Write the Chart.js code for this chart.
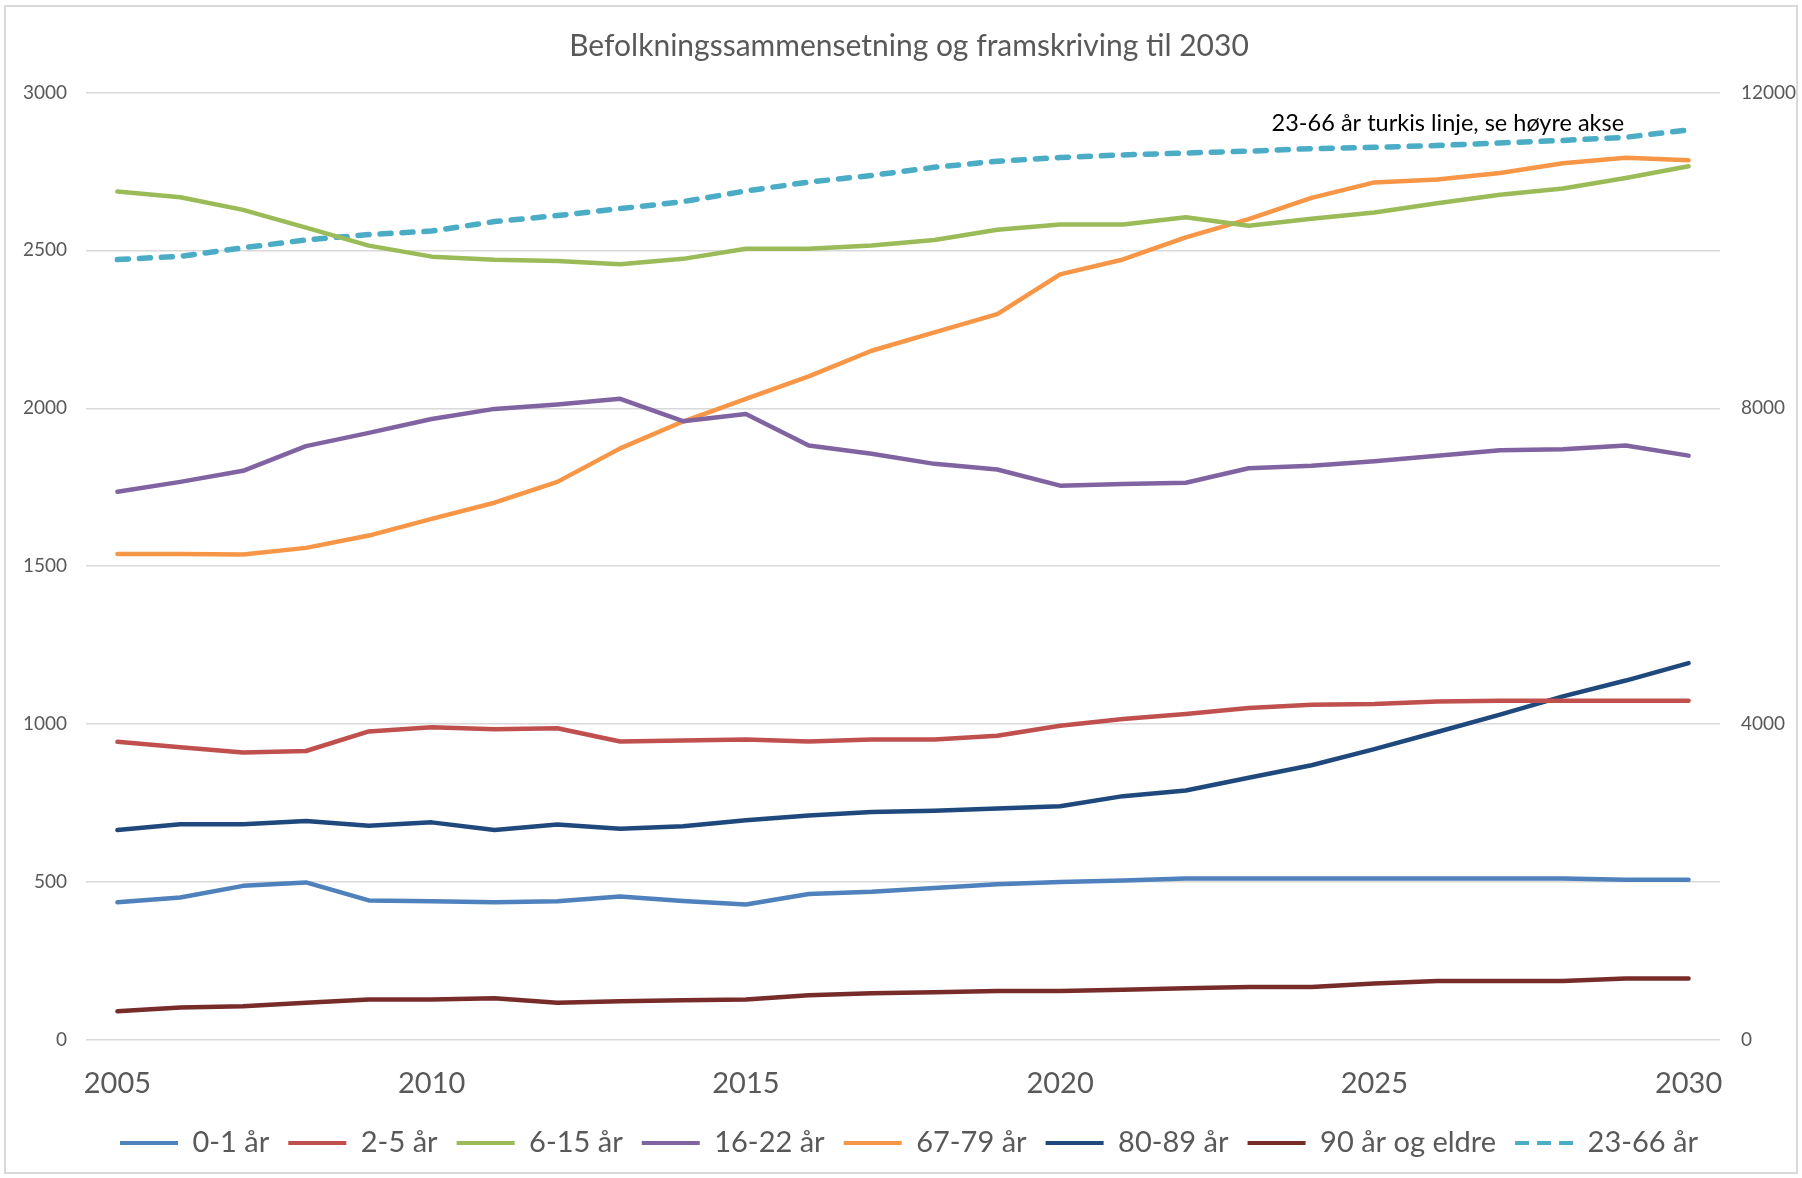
<!DOCTYPE html>
<html>
<head>
<meta charset="utf-8">
<script src="https://cdn.jsdelivr.net/npm/chart.js@4"></script>
<style>
  html, body { margin: 0; padding: 0; background: #fff; overflow: hidden; }
  canvas { display: block; }
</style>
</head>
<body>
<canvas id="befolkning" width="1802" height="1178"></canvas>
<script>
const years = [2005, 2006, 2007, 2008, 2009, 2010, 2011, 2012, 2013, 2014, 2015, 2016, 2017,
  2018, 2019, 2020, 2021, 2022, 2023, 2024, 2025, 2026, 2027, 2028, 2029, 2030];

// left axis (persons)
const age0_1 = [436, 451, 488, 499, 442, 439, 436, 439, 454, 440, 429, 462, 469,
  481, 493, 500, 505, 511, 511, 511, 511, 511, 511, 511, 507, 507];
const age2_5 = [944, 927, 910, 915, 977, 990, 984, 987, 945, 948, 951, 945, 951,
  951, 963, 995, 1016, 1032, 1051, 1061, 1064, 1072, 1074, 1074, 1074, 1074];
const age6_15 = [2686, 2668, 2628, 2572, 2515, 2480, 2470, 2466, 2456, 2473, 2505, 2505, 2515,
  2533, 2565, 2582, 2582, 2605, 2578, 2600, 2620, 2649, 2676, 2696, 2729, 2766];
const age16_22 = [1736, 1767, 1802, 1880, 1922, 1966, 1998, 2012, 2030, 1959, 1982, 1882, 1856,
  1824, 1806, 1755, 1760, 1764, 1810, 1818, 1832, 1850, 1867, 1870, 1882, 1850];
const age67_79 = [1539, 1539, 1537, 1558, 1597, 1650, 1701, 1767, 1873, 1958, 2030, 2101, 2182,
  2240, 2298, 2424, 2471, 2541, 2599, 2666, 2715, 2724, 2745, 2776, 2793, 2785];
const age80_89 = [665, 683, 683, 693, 678, 689, 665, 682, 669, 677, 696, 711, 722,
  726, 733, 740, 772, 790, 830, 870, 921, 975, 1030, 1088, 1138, 1193];
const age90plus = [91, 103, 107, 118, 128, 128, 132, 118, 123, 126, 128, 142, 148,
  151, 155, 155, 159, 164, 168, 168, 179, 187, 187, 187, 195, 195];
// right axis
const age23_66 = [9884, 9924, 10032, 10132, 10200, 10244, 10364, 10440, 10528, 10616, 10752, 10864, 10948,
  11052, 11128, 11176, 11208, 11232, 11256, 11288, 11304, 11328, 11360, 11392, 11432, 11524];

const leftTicks = { min: 0, max: 3000, step: 500 };
const rightTicks = { min: 0, max: 12000, step: 4000 };

const note = '23-66 år turkis linje, se høyre akse';
const grey = '#595959';

Chart.defaults.font.family = 'Lato, "Noto Sans", sans-serif';
Chart.defaults.color = grey;

function line(label, data, color, axis, dash) {
    return {
        label: label,
        data: data,
        borderColor: color,
        backgroundColor: color,
        borderWidth: dash ? 5.5 : 4.5,
        borderDash: dash || [],
        borderCapStyle: 'round',
        borderJoinStyle: 'round',
        pointRadius: 0,
        pointHoverRadius: 0,
        tension: 0,
        fill: false,
        yAxisID: axis,
    };
}

const frame = {
    id: 'frame',
    beforeDraw(chart) {
        const ctx = chart.ctx;
        ctx.save();
        ctx.fillStyle = '#fff';
        ctx.fillRect(0, 0, chart.width, chart.height);
        ctx.strokeStyle = '#d9d9d9';
        ctx.lineWidth = 2;
        ctx.strokeRect(5, 6, chart.width - 10, chart.height - 11);
        ctx.restore();
    }
};

const noteLabel = {
    id: 'noteLabel',
    afterDatasetsDraw(chart) {
        const ctx = chart.ctx;
        const x = chart.scales.x.getPixelForValue(21.17);
        const y = chart.scales.y2.getPixelForValue(11609);
        ctx.save();
        ctx.font = '23.5px Lato, "Noto Sans", sans-serif';
        ctx.fillStyle = '#000';
        ctx.textAlign = 'center';
        ctx.textBaseline = 'middle';
        ctx.fillText(note, x, y);
        ctx.restore();
    }
};

const ctx = document.getElementById('befolkning').getContext('2d');
new Chart(ctx, {
    type: 'line',
    data: {
        labels: years,
        datasets: [
            line('0-1 år', age0_1, '#4f81bd', 'y'),
            line('2-5 år', age2_5, '#c0504d', 'y'),
            line('6-15 år', age6_15, '#9bbb59', 'y'),
            line('16-22 år', age16_22, '#8064a2', 'y'),
            line('67-79 år', age67_79, '#f79646', 'y'),
            line('80-89 år', age80_89, '#1f497d', 'y'),
            line('90 år og eldre', age90plus, '#772c2a', 'y'),
            line('23-66 år', age23_66, '#4bacc6', 'y2', [11, 11]),
        ],
    },
    options: {
        responsive: false,
        animation: false,
        devicePixelRatio: 1,
        layout: { padding: { top: 0, left: 16, right: 0, bottom: 10.5 } },
        plugins: {
            title: {
                display: true,
                text: 'Befolkningssammensetning og framskriving til 2030',
                color: grey,
                font: { size: 30, weight: 'normal' },
                padding: { top: 28, bottom: 28.4 },
            },
            legend: {
                position: 'bottom',
                labels: {
                    color: grey,
                    font: { size: 29 },
                    usePointStyle: true,
                    pointStyle: 'line',
                    pointStyleWidth: 58,
                    padding: 19,
                    generateLabels: (chart) => {
                        const items = Chart.defaults.plugins.legend.labels.generateLabels(chart);
                        items.forEach((it) => {
                            const ds = chart.data.datasets[it.datasetIndex];
                            it.lineWidth = 4;
                            if (ds.borderDash.length) {
                                it.lineDash = [14, 8];
                            }
                        });
                        return items;
                    },
                },
            },
            tooltip: { enabled: false },
        },
        scales: {
            x: {
                offset: true,
                grid: { display: false, drawTicks: false },
                border: { display: false },
                ticks: {
                    autoSkip: false,
                    maxRotation: 0,
                    padding: 26,
                    font: { size: 29 },
                    color: grey,
                    callback: function (v, i) {
                        const yr = years[i];
                        return yr % 5 === 0 ? String(yr) : '';
                    },
                },
                afterFit: (s) => { s.height = 69.5; },
            },
            y: {
                position: 'left',
                min: leftTicks.min,
                max: leftTicks.max,
                ticks: {
                    stepSize: leftTicks.step, padding: 19, font: { size: 19 }, color: grey,
                    callback: (v) => String(v),
                },
                grid: { color: '#d9d9d9', lineWidth: 1.5, drawTicks: false },
                border: { display: false },
                afterFit: (s) => { s.width = 70; },
            },
            y2: {
                position: 'right',
                min: rightTicks.min,
                max: rightTicks.max,
                ticks: {
                    stepSize: rightTicks.step, padding: 21, font: { size: 19 }, color: grey,
                    callback: (v) => String(v),
                },
                grid: { display: false, drawTicks: false },
                border: { display: false },
                afterFit: (s) => { s.width = 82; },
            },
        },
    },
    plugins: [frame, noteLabel],
});
</script>
</body>
</html>
